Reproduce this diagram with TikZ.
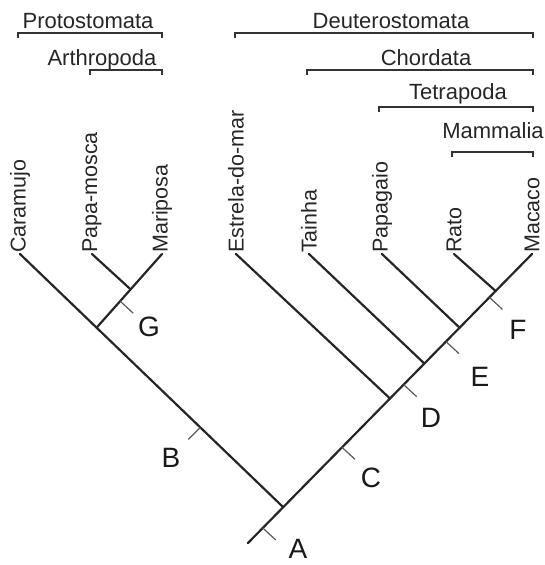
\documentclass[tikz,border=0pt]{standalone}
\usepackage{fontspec}
\setmainfont{Liberation Sans}
\usetikzlibrary{calc}
\tikzset{ramo/.style={draw=black!85, line width=2.2pt, line cap=round},
	marca/.style={draw=black!65, line width=1.2pt},
	chave/.style={draw=black!80, line width=1.8pt},
	taxon/.style={rotate=90, anchor=west, inner sep=1pt, text=black!85, font=\fontsize{21.5}{24}\selectfont},
	clado/.style={anchor=base, inner sep=0pt, text=black!85, font=\fontsize{22}{24}\selectfont},
	letra/.style={inner sep=0pt, text=black!90, font=\fontsize{28}{30}\selectfont}}

\begin{document}
\begin{tikzpicture}[x=1pt, y=-1pt]
	\useasboundingbox (0,0) rectangle (545,565);
	%Taxa
	\node[taxon] (caramujo) at (20,254) {Caramujo};
	\node[taxon] (papamosca) at (92,254) {Papa-mosca};
	\node[taxon] (mariposa) at (162,254) {Mariposa};
	\node[taxon] (estrela) at (236,254) {Estrela-do-mar};
	\node[taxon] (tainha) at (309,254) {Tainha};
	\node[taxon] (papagaio) at (382,254) {Papagaio};
	\node[taxon] (rato) at (454,254) {Rato};
	\node[taxon] (macaco) at (532,254) {Macaco};
	%Ramos
	\coordinate (base) at (248,543);
	\coordinate (n1) at ($(base)!0.124!(macaco.west)$);
	\coordinate (n2) at ($(base)!0.5!(macaco.west)$);
	\coordinate (n3) at ($(base)!0.621!(macaco.west)$);
	\coordinate (n4) at ($(base)!0.745!(macaco.west)$);
	\coordinate (n5) at ($(base)!0.872!(macaco.west)$);
	\coordinate (n6) at ($(n1)!0.709!(caramujo.west)$);
	\coordinate (n7) at ($(n6)!0.52!(mariposa.west)$);
	\draw[ramo] (base) -- (n1) -- (macaco.west);
	\draw[ramo] (n1) -- (n6) -- (caramujo.west);
	\draw[ramo] (n6) -- (n7) -- (mariposa.west);
	\draw[ramo] (n7) -- (papamosca.west);
	\draw[ramo] (n2) -- (estrela.west);
	\draw[ramo] (n3) -- (tainha.west);
	\draw[ramo] (n4) -- (papagaio.west);
	\draw[ramo] (n5) -- (rato.west);
	%Caracteres
	\foreach \t/\n in {0.052/a,0.331/c,0.548/d,0.697/e,0.85/f}{
		\coordinate (\n) at ($(base)!\t!(macaco.west)$);
		\coordinate (\n') at ($(\n)+(13,12)$);
		\draw[marca] (\n) -- (\n');
	}
	\coordinate (b) at ($(n1)!0.315!(caramujo.west)$);
	\coordinate (b') at ($(b)+(-12,12)$);
	\draw[marca] (b) -- (b');
	\coordinate (g) at ($(n6)!0.36!(mariposa.west)$);
	\coordinate (g') at ($(g)+(13,12)$);
	\draw[marca] (g) -- (g');
	\node[letra] (A) at (298,549) {A};
	\node[letra] (B) at (171,458) {B};
	\node[letra] (C) at (371,478) {C};
	\node[letra] (D) at (431,418) {D};
	\node[letra] (E) at (480,377) {E};
	\node[letra] (F) at (518,330) {F};
	\node[letra] (G) at (149,327) {G};
	%Clados
	\draw[chave] (18,38) |- (162,33) -- ++(0,5);
	\draw[chave] (90,75) |- (162,70) -- ++(0,5);
	\draw[chave] (235,38) |- (533,33) -- ++(0,5);
	\draw[chave] (307,75) |- (533,70) -- ++(0,5);
	\draw[chave] (379,112) |- (533,107) -- ++(0,5);
	\draw[chave] (452,157) |- (533,152) -- ++(0,5);
	\node[clado] (protostomata) at (88,28) {Protostomata};
	\node[clado] (arthropoda) at (102,65) {Arthropoda};
	\node[clado] (deuterostomata) at (391,28.5) {Deuterostomata};
	\node[clado] (chordata) at (426,65) {Chordata};
	\node[clado] (tetrapoda) at (458,99.5) {Tetrapoda};
	\node[clado] (mammalia) at (493,138.5) {Mammalia};
\end{tikzpicture}
\end{document}
